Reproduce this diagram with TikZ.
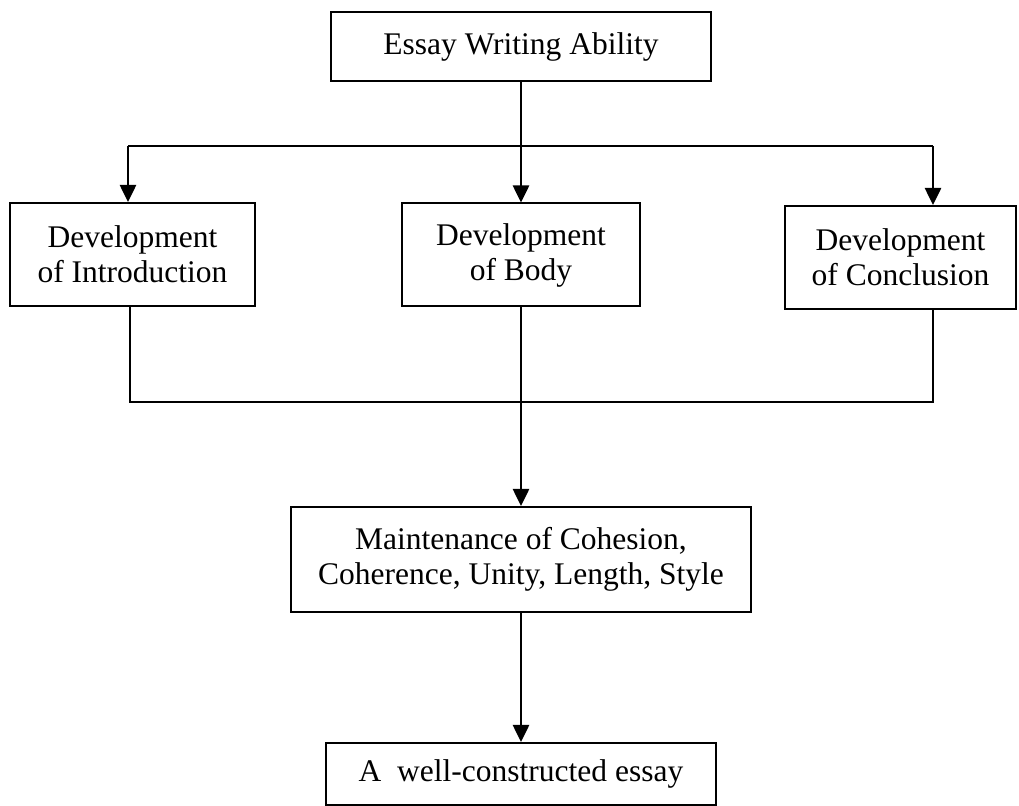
\documentclass[tikz,border=0pt]{standalone}
\usepackage{fontspec}
\setmainfont{Liberation Serif}
\usetikzlibrary{arrows.meta}
\begin{document}
\begin{tikzpicture}[x=0.5pt,y=-0.5pt,
  box/.style={draw,line width=1pt,inner sep=0pt,align=center,font=\fontsize{15.75pt}{17.5pt}\selectfont},
  conn/.style={line width=1.3pt},
  arr/.style={conn,-{Triangle[width=8pt,length=8.5pt]}}]
\useasboundingbox (0,0) rectangle (1019,806);
\node[box,minimum width=190pt,minimum height=34.5pt] (top) at (521,46.5) {Essay Writing Ability};
\node[box,minimum width=122.5pt,minimum height=51.5pt] (intro) at (132.5,254.5) {Development\\of Introduction};
\node[box,minimum width=119pt,minimum height=51.5pt] (body) at (521,255) {Development\\of Body};
\node[box,minimum width=115.5pt,minimum height=51.5pt] (concl) at (900.5,257.5) {Development\\of Conclusion};
\node[box,minimum width=230pt,minimum height=52.5pt] (maint) at (521,559.5) {Maintenance of Cohesion,\\Coherence, Unity, Length, Style};
\node[box,minimum width=195pt,minimum height=31pt] (final) at (521,774) {A\ \ well-constructed essay};
\coordinate (hl) at (128,146);
\coordinate (hr) at (933,146);
\coordinate (bl) at (130,402);
\coordinate (br) at (933,402);
\draw[conn] (hl) -- (hr);
\draw[conn] (top.south) -- (top.south |- hl);
\draw[arr] (hl) -- (hl |- intro.north);
\draw[arr] (top.south |- hl) -- (body.north);
\draw[arr] (hr) -- (hr |- concl.north);
\draw[conn] (bl |- intro.south) -- (bl) -- (br) -- (br |- concl.south);
\draw[arr] (body.south) -- (maint.north);
\draw[arr] (maint.south) -- (final.north);
\end{tikzpicture}
\end{document}
